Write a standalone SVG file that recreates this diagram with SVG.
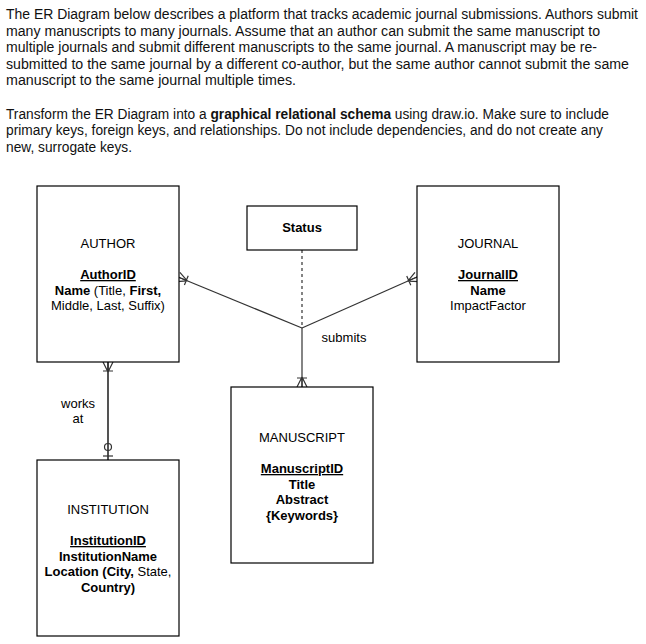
<svg xmlns="http://www.w3.org/2000/svg" width="646" height="644" viewBox="0 0 646 644">
<style>
.para{font-family:"Liberation Sans",Arial,sans-serif;font-size:14px;fill:#111}
.lbl{font-family:"Liberation Sans",Arial,Helvetica,sans-serif;font-size:13px;fill:#000;text-anchor:middle}
.b{font-weight:bold}
.u{text-decoration:underline}
.box{fill:#fff;stroke:#000;stroke-width:1.2}
.edge{fill:none;stroke:#333;stroke-width:1.2}
.mk{fill:none;stroke:#333;stroke-width:1.2}
</style>
<defs>
<marker id="oneMany" markerUnits="userSpaceOnUse" viewBox="0 0 14 12" refX="14" refY="6" markerWidth="14" markerHeight="12" orient="auto" overflow="visible">
<path class="mk" d="M4,6 L14,1 M4,6 L14,11 M4,6 L14,6 M5,1 L5,11"/>
</marker>
<marker id="zeroOne" markerUnits="userSpaceOnUse" viewBox="0 0 18 12" refX="18" refY="6" markerWidth="18" markerHeight="12" orient="auto" overflow="visible">
<circle class="mk" cx="5" cy="6" r="3.5" fill="#fff"/>
<path class="mk" d="M14,1 L14,11"/>
</marker>
</defs>
<rect width="646" height="644" fill="#fff"/>
<g id="intro">
<text class="para" x="6" y="19" textLength="632" lengthAdjust="spacingAndGlyphs">The ER Diagram below describes a platform that tracks academic journal submissions. Authors submit</text>
<text class="para" x="6" y="35.5" textLength="594" lengthAdjust="spacingAndGlyphs">many manuscripts to many journals. Assume that an author can submit the same manuscript to</text>
<text class="para" x="6" y="52" textLength="591" lengthAdjust="spacingAndGlyphs">multiple journals and submit different manuscripts to the same journal. A manuscript may be re-</text>
<text class="para" x="6" y="68.5" textLength="623" lengthAdjust="spacingAndGlyphs">submitted to the same journal by a different co-author, but the same author cannot submit the same</text>
<text class="para" x="6" y="85" textLength="290" lengthAdjust="spacingAndGlyphs">manuscript to the same journal multiple times.</text>
<text class="para" x="6" y="118.5" textLength="603" lengthAdjust="spacingAndGlyphs">Transform the ER Diagram into a <tspan class="b">graphical relational schema</tspan> using draw.io. Make sure to include</text>
<text class="para" x="6" y="135" textLength="597" lengthAdjust="spacingAndGlyphs">primary keys, foreign keys, and relationships. Do not include dependencies, and do not create any</text>
<text class="para" x="6" y="151.5" textLength="126" lengthAdjust="spacingAndGlyphs">new, surrogate keys.</text>
</g>
<g id="connectors">
<line class="edge" x1="302" y1="250" x2="302" y2="328" stroke-dasharray="3 3"/>
<line class="edge" x1="302" y1="328" x2="178" y2="277" marker-end="url(#oneMany)"/>
<line class="edge" x1="302" y1="328" x2="417" y2="277" marker-end="url(#oneMany)"/>
<line class="edge" x1="302" y1="328" x2="302" y2="387" marker-end="url(#oneMany)"/>
<line class="edge" x1="108" y1="460" x2="108" y2="362" marker-end="url(#oneMany)"/>
<line class="edge" x1="108" y1="362" x2="108" y2="460" marker-end="url(#zeroOne)"/>
<text class="lbl" x="344" y="342">submits</text>
<text class="lbl" x="78" y="408">works</text>
<text class="lbl" x="78" y="423">at</text>
</g>
<g id="author">
<rect class="box" x="37" y="186" width="142" height="176"/>
<text class="lbl" x="108" y="248">AUTHOR</text>
<text class="lbl b u" x="108" y="279">AuthorID</text>
<text class="lbl" x="108" y="294.5"><tspan class="b">Name</tspan> (Title, <tspan class="b">First,</tspan></text>
<text class="lbl" x="108" y="310">Middle, Last, Suffix)</text>
</g>
<g id="status">
<rect class="box" x="247" y="206" width="110" height="44"/>
<text class="lbl b" x="302" y="232">Status</text>
</g>
<g id="journal">
<rect class="box" x="417" y="186" width="142" height="176"/>
<text class="lbl" x="488" y="248">JOURNAL</text>
<text class="lbl b u" x="488" y="279">JournalID</text>
<text class="lbl b" x="488" y="294.5">Name</text>
<text class="lbl" x="488" y="310">ImpactFactor</text>
</g>
<g id="manuscript">
<rect class="box" x="231" y="387" width="142" height="176"/>
<text class="lbl" x="302" y="442">MANUSCRIPT</text>
<text class="lbl b u" x="302" y="473">ManuscriptID</text>
<text class="lbl b" x="302" y="488.5">Title</text>
<text class="lbl b" x="302" y="504">Abstract</text>
<text class="lbl b" x="302" y="519.5">{Keywords}</text>
</g>
<g id="institution">
<rect class="box" x="37" y="460" width="142" height="176"/>
<text class="lbl" x="108" y="514">INSTITUTION</text>
<text class="lbl b u" x="108" y="545">InstitutionID</text>
<text class="lbl b" x="108" y="560.5">InstitutionName</text>
<text class="lbl" x="108" y="576"><tspan class="b">Location (City,</tspan> State,</text>
<text class="lbl b" x="108" y="591.5">Country)</text>
</g>
</svg>
